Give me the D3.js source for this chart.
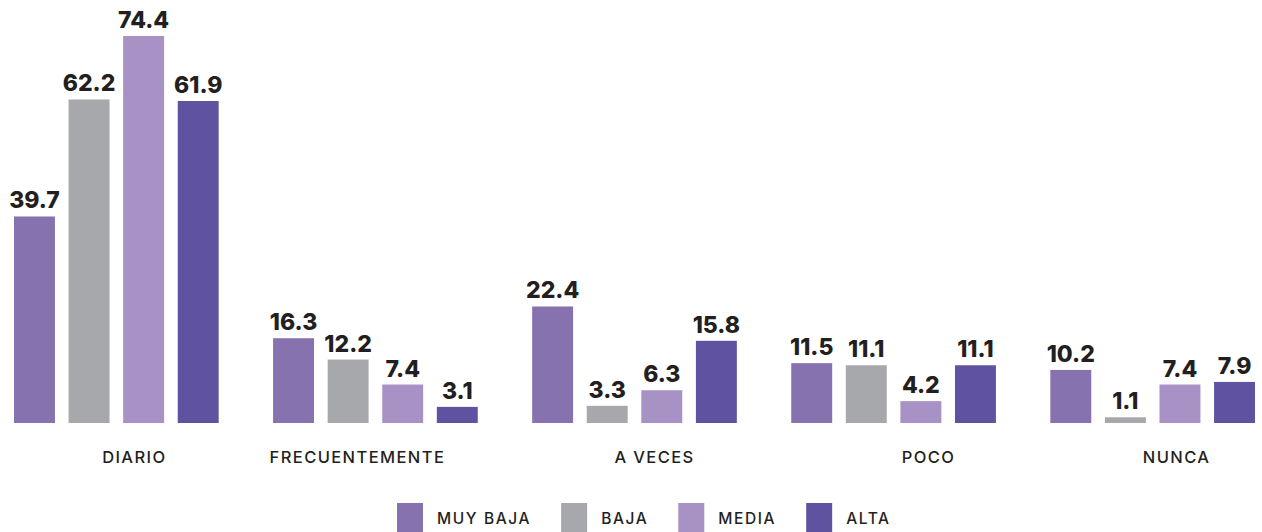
<!DOCTYPE html>
<html>
<head>
<meta charset="utf-8">
<script src="https://cdn.jsdelivr.net/npm/d3@7"></script>
<style>
  html, body { margin: 0; padding: 0; background: #ffffff; }
  svg { display: block; }
</style>
</head>
<body>
<svg id="chart" width="1262" height="532"></svg>
<script>
const categories = ["DIARIO", "FRECUENTEMENTE", "A VECES", "POCO", "NUNCA"];
const series = ["MUY BAJA", "BAJA", "MEDIA", "ALTA"];
const muyBaja = [39.7, 16.3, 22.4, 11.5, 10.2];
const baja    = [62.2, 12.2, 3.3, 11.1, 1.1];
const media   = [74.4, 7.4, 6.3, 4.2, 7.4];
const alta    = [61.9, 3.1, 15.8, 11.1, 7.9];
const seriesValues = [muyBaja, baja, media, alta];
const colors = ["#8772b0", "#a7a8ab", "#a891c5", "#5f52a0"];

(function () {
const svg = d3.select("#chart");
const textColor = "#231f20";
const baseline = 423, plotTop = 36;

const x0 = d3.scaleBand().domain(categories).range([14, 1255]).paddingInner(0.21).paddingOuter(0);
const x1 = d3.scaleBand().domain(series).range([0, x0.bandwidth()]).paddingInner(0.25).paddingOuter(0);
const y = d3.scaleLinear().domain([0, d3.max(seriesValues.flat())]).range([baseline, plotTop]);

const rows = [];
categories.forEach((c, ci) => series.forEach((s, si) => rows.push({cat: c, ser: s, si, v: seriesValues[si][ci]})));

const g = svg.append("g");
g.selectAll("rect.bar").data(rows).join("rect")
  .attr("class", "bar")
  .attr("x", d => x0(d.cat) + x1(d.ser))
  .attr("y", d => y(d.v))
  .attr("width", x1.bandwidth())
  .attr("height", d => baseline - y(d.v))
  .attr("fill", d => colors[d.si]);

g.selectAll("text.val").data(rows).join("text")
  .attr("class", "val")
  .attr("x", d => x0(d.cat) + x1(d.ser) + x1.bandwidth() / 2)
  .attr("y", d => y(d.v) - 8)
  .attr("text-anchor", "middle")
  .attr("font-family", "Inter, 'Open Sans', sans-serif")
  .attr("font-weight", 800)
  .attr("font-size", 23)
  .attr("fill", textColor)
  .text(d => d.v.toFixed(1));

// category axis labels (nudged to match the original layout)
const labelDx = [18, -18, 20, 35, 24];
const xAxis = d3.axisBottom(x0).tickSize(0).tickPadding(0);
const axisG = svg.append("g").attr("transform", `translate(0,${baseline})`).call(xAxis);
axisG.select(".domain").remove();
axisG.selectAll(".tick text")
  .attr("y", 40)
  .attr("dy", 0)
  .attr("dx", (d, i) => labelDx[i])
  .attr("font-family", "Inter, 'Open Sans', sans-serif")
  .attr("font-weight", 500)
  .attr("font-size", 16.5)
  .attr("letter-spacing", 1.4)
  .attr("fill", textColor);

// legend
const legend = svg.append("g").attr("transform", "translate(397,503)");
let lx = 0;
series.forEach((s, i) => {
  const item = legend.append("g").attr("transform", `translate(${lx},0)`);
  item.append("rect").attr("width", 26).attr("height", 29).attr("fill", colors[i]);
  const t = item.append("text")
    .attr("x", 40).attr("y", 21)
    .attr("font-family", "Inter, 'Open Sans', sans-serif")
    .attr("font-weight", 500)
    .attr("font-size", 15.5)
    .attr("letter-spacing", 1.6)
    .attr("fill", textColor)
    .text(s);
  const w = t.node().getComputedTextLength();
  lx += 40 + w + 30;
});
})();
</script>
</body>
</html>
